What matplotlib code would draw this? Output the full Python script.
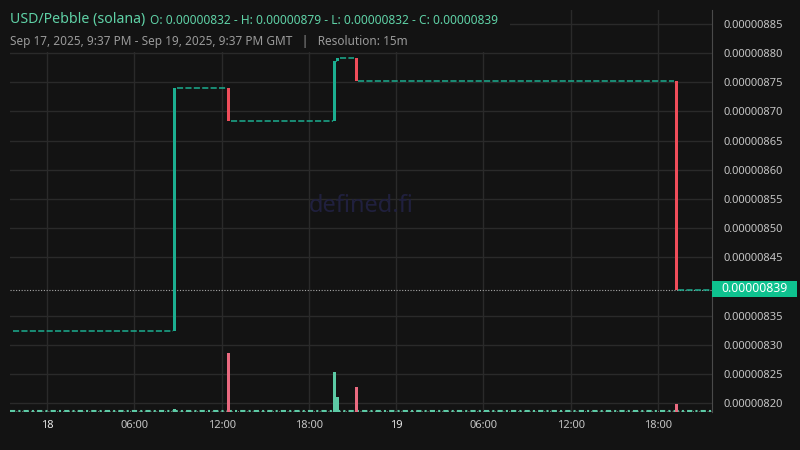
import pandas as pd
import matplotlib.pyplot as plt
import matplotlib.dates as mdates
from matplotlib.patches import Rectangle
from matplotlib.ticker import FuncFormatter, FixedLocator

plt.rcParams['font.family'] = ['Noto Sans', 'DejaVu Sans']

BG = "#131313"
GREEN = "#1cae90"
RED = "#ef4d5a"
VGREEN = "#5ccaa5"
VRED = "#ea6a80"
GRID = "#2a2a2a"
TXT = "#c4c4c4"

# window shown
t_start = "2025-09-17 21:27"
t_end = "2025-09-19 21:43"
t_first = "2025-09-17 21:37"

# candles that moved (15m resolution), everything else is flat
candle_times = ["2025-09-18 08:45", "2025-09-18 12:30", "2025-09-18 19:45",
                "2025-09-18 20:00", "2025-09-18 21:15", "2025-09-19 19:15"]
opens = [8.323e-6, 8.740e-6, 8.684e-6, 8.787e-6, 8.792e-6, 8.753e-6]
closes = [8.740e-6, 8.684e-6, 8.787e-6, 8.792e-6, 8.753e-6, 8.393e-6]
volumes = [0.3, 5.9, 4.0, 1.5, 2.5, 0.8]

ytick_vals = [8.20e-6, 8.25e-6, 8.30e-6, 8.35e-6, 8.45e-6, 8.50e-6, 8.55e-6,
              8.60e-6, 8.65e-6, 8.70e-6, 8.75e-6, 8.80e-6, 8.85e-6]
xtick_times = ["2025-09-18 00:00", "2025-09-18 06:00", "2025-09-18 12:00", "2025-09-18 18:00",
               "2025-09-19 00:00", "2025-09-19 06:00", "2025-09-19 12:00", "2025-09-19 18:00"]
xtick_labels = ["18", "06:00", "12:00", "18:00", "19", "06:00", "12:00", "18:00"]


def num(s):
    return mdates.date2num(pd.Timestamp(s))


def main():
    fig = plt.figure(figsize=(8, 4.5), dpi=100, facecolor=BG)
    pos = [10 / 800, 38 / 450, 702 / 800, 402 / 450]
    ax = fig.add_axes(pos, facecolor=BG)
    vax = fig.add_axes(pos, facecolor="none", sharex=ax)

    step = 1 / 96  # 15 minutes in days
    tn = [num(t) for t in candle_times]

    # flat stretches between moving candles
    seg_starts = [num(t_first)] + [t + step / 2 for t in tn]
    seg_ends = tn + [num(t_end)]
    seg_levels = [opens[0]] + closes
    for a, b, lv in zip(seg_starts, seg_ends, seg_levels):
        ax.hlines(lv, a + step * 0.1, b - step * 0.5, color=GREEN, lw=1.1,
                  linestyles=(0, (4, 1.5)), zorder=3)

    for t, o, c in zip(tn, opens, closes):
        col = GREEN if c >= o else RED
        ax.bar(t, c - o, bottom=o, width=step * 0.82, color=col, zorder=4, linewidth=0)

    last = closes[-1]
    ax.axhline(last, color="#a8a8a8", lw=0.8, ls=(0, (1, 1.5)), zorder=2)

    ax.set_xlim(num(t_start), num(t_end))
    ax.set_ylim(8.18457e-6, 8.8740e-6)

    ax.xaxis.set_major_locator(FixedLocator([num(t) for t in xtick_times]))
    ax.set_xticklabels(xtick_labels)
    for lab, txt in zip(ax.get_xticklabels(), xtick_labels):
        if ":" not in txt:
            lab.set_fontweight("bold")
            lab.set_color("#e8e8e8")
        else:
            lab.set_color(TXT)
    ax.tick_params(axis="x", length=0, pad=6, labelsize=8)

    ax.yaxis.tick_right()
    ax.set_yticks(ytick_vals)
    ax.yaxis.set_major_formatter(FuncFormatter(lambda v, p: f"{v:.8f}"))
    ax.tick_params(axis="y", length=0, pad=8, labelsize=8, labelcolor=TXT)

    ax.grid(True, color=GRID, lw=1)
    ax.set_axisbelow(True)
    for s in ("left", "top", "bottom"):
        ax.spines[s].set_visible(False)
    ax.spines["right"].set_color("#4a4a4a")

    # volume
    vcols = [VGREEN if c >= o else VRED for o, c in zip(opens, closes)]
    vax.bar(tn, volumes, width=step * 0.82, color=vcols, linewidth=0, zorder=3)
    vax.axhline(0.08, color="#7a7a7a", lw=0.7, ls=(0, (1, 2)), zorder=1)
    vax.axhline(0.08, color=VGREEN, lw=1.5, ls=(0, (2.5, 1.5, 1, 1.5)), zorder=2)
    vax.set_ylim(0, 40.2)
    vax.axis("off")

    # watermark
    ax.text(0.5, 0.512, "defined.fi", transform=ax.transAxes, ha="center", va="center",
            fontsize=17, color="#20203e", zorder=1)

    # current price tag
    fig.patches.append(Rectangle((712 / 800, 1 - 297 / 450), 85 / 800, 16 / 450,
                                 transform=fig.transFigure, facecolor="#0ec28f",
                                 edgecolor="none", zorder=5))
    fig.text(754.5 / 800, 1 - 289 / 450, f"{last:.8f}", ha="center", va="center",
             fontsize=8.8, color="white", zorder=6)

    # header block hides the grid behind it
    fig.patches.append(Rectangle((0, 1 - 52 / 450), 510 / 800, 52 / 450,
                                 transform=fig.transFigure, facecolor=BG,
                                 edgecolor="none", zorder=5))
    fig.text(10 / 800, 1 - 20 / 450, "USD/Pebble (solana)", ha="left", va="center",
             fontsize=10.2, color="#5fd1a6", zorder=6)
    fig.text(150 / 800, 1 - 20 / 450,
             f"O: {opens[0]:.8f} - H: {max(closes):.8f} - L: {opens[0]:.8f} - C: {last:.8f}",
             ha="left", va="center", fontsize=8.6, color="#5fd1a6", zorder=6)
    fig.text(10 / 800, 1 - 41 / 450,
             "Sep 17, 2025, 9:37 PM - Sep 19, 2025, 9:37 PM GMT   |   Resolution: 15m",
             ha="left", va="center", fontsize=8.5, color="#9a9a9a", zorder=6)

    fig.savefig("out.png", dpi=100, facecolor=BG)


if __name__ == "__main__":
    main()
